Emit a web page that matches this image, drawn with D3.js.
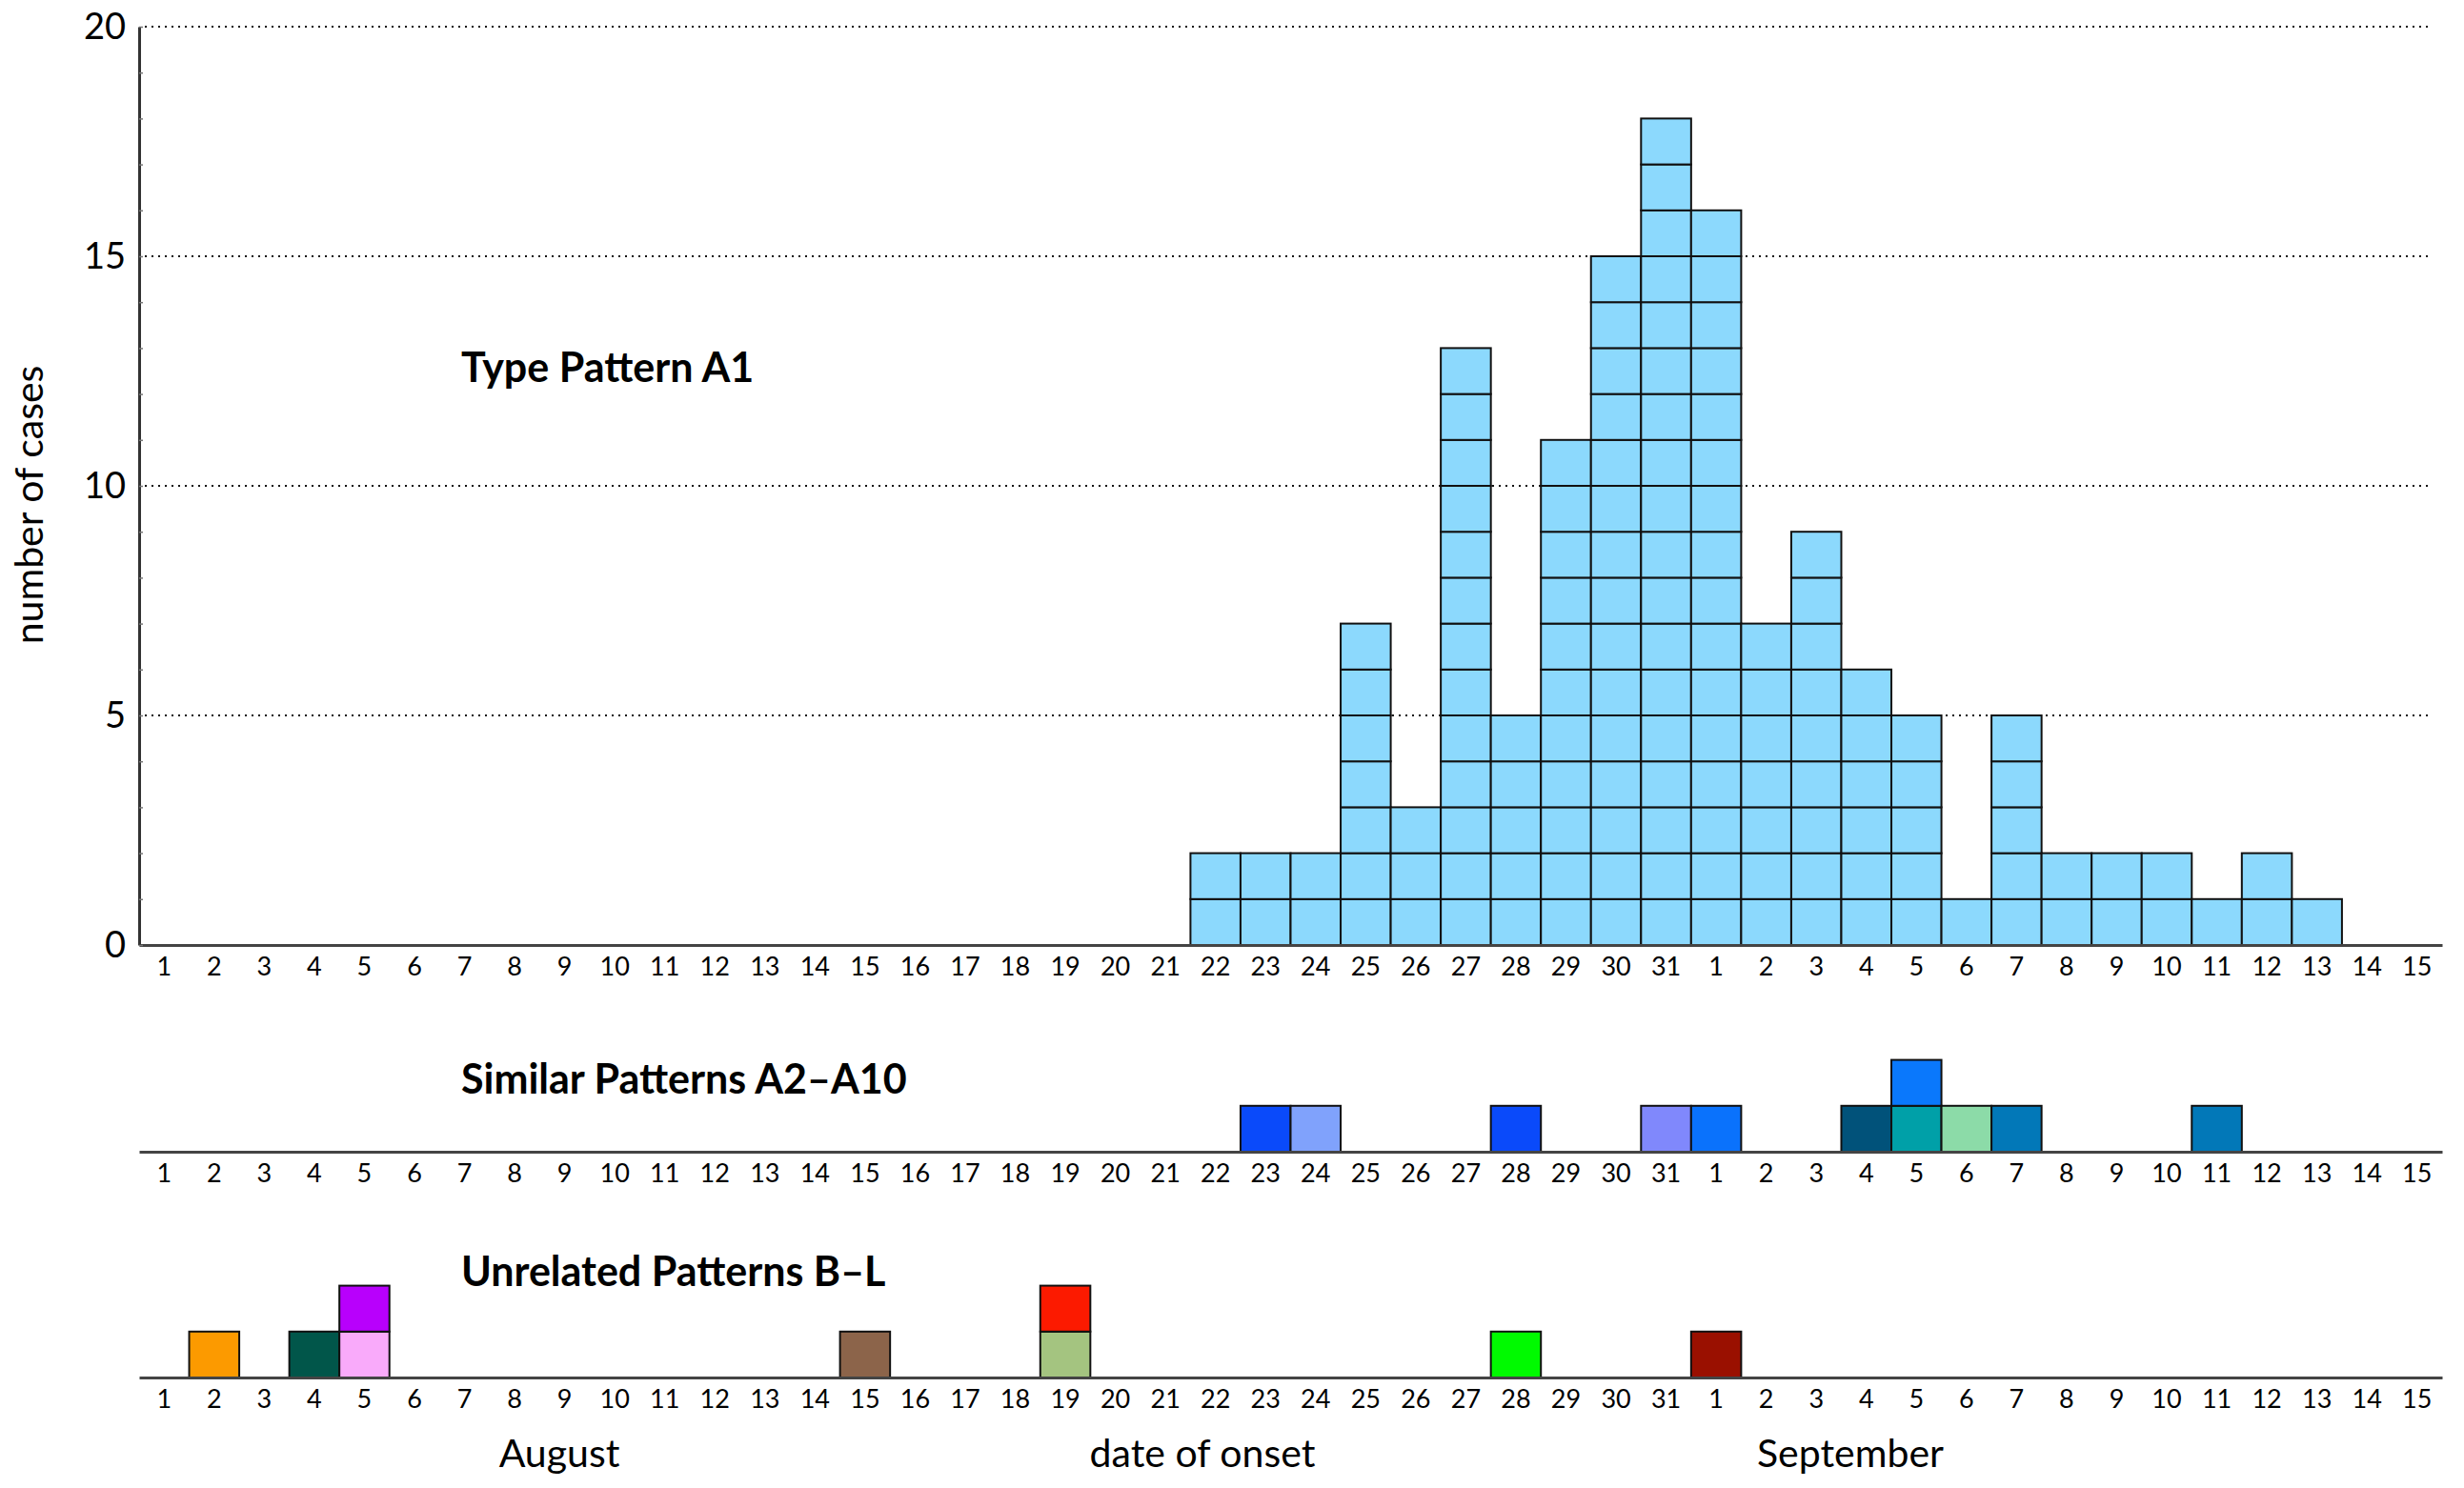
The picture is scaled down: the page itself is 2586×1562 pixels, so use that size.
<!DOCTYPE html>
<html>
<head>
<meta charset="utf-8">
<script src="https://cdnjs.cloudflare.com/ajax/libs/d3/7.8.5/d3.min.js"></script>
<style>
body{margin:0;background:#fff;}
text{font-family:Lato,"Open Sans",sans-serif;fill:#000;}
</style>
</head>
<body>
<div id="viz"><svg></svg></div>
<script>
// one band per day of onset
const days = [
  "Aug 1","Aug 2","Aug 3","Aug 4","Aug 5","Aug 6","Aug 7","Aug 8","Aug 9","Aug 10",
  "Aug 11","Aug 12","Aug 13","Aug 14","Aug 15","Aug 16","Aug 17","Aug 18","Aug 19","Aug 20",
  "Aug 21","Aug 22","Aug 23","Aug 24","Aug 25","Aug 26","Aug 27","Aug 28","Aug 29","Aug 30","Aug 31",
  "Sep 1","Sep 2","Sep 3","Sep 4","Sep 5","Sep 6","Sep 7","Sep 8","Sep 9","Sep 10",
  "Sep 11","Sep 12","Sep 13","Sep 14","Sep 15"
];

// type pattern A1, cases per day (same order as days)
const typeA1 = [
  0,0,0,0,0,0,0,0,0,0,
  0,0,0,0,0,0,0,0,0,0,
  0,2,2,2,7,3,13,5,11,15,18,
  16,7,9,6,5,1,5,2,2,2,
  1,2,1,0,0
];

// similar patterns A2-A10, one entry per case, stacked bottom-up
const similarDays   = ["Aug 23","Aug 24","Aug 28","Aug 31","Sep 1","Sep 4","Sep 5","Sep 5","Sep 6","Sep 7","Sep 11"];
const similarColors = ["#0a4afa","#80a2fc","#0a4afa","#8088fc","#0a72fc","#01527a","#00a0a8","#0a78fc","#8cdba8","#0278b8","#0278b8"];

// unrelated patterns B-L
const unrelatedDays   = ["Aug 2","Aug 4","Aug 5","Aug 5","Aug 15","Aug 19","Aug 19","Aug 28","Sep 1"];
const unrelatedColors = ["#fc9a00","#01564a","#f9aafa","#b800fc","#8c644a","#a4c480","#fc1a00","#00fa00","#9a1000"];

const yTicks = [0,5,10,15,20];
const panelTitles = ["Type Pattern A1","Similar Patterns A2\u2013A10","Unrelated Patterns B\u2013L"];
const bottomLabels = ["August","date of onset","September"];

const SETTINGS = {
  width:2586, height:1562,
  left:146, right:2563,
  gridEnd:2550,
  mainTop:28, mainBase:992,
  simBase:1209, unrelBase:1446,
  titleX:484, titleY:[401,1148,1350],
  bottomX:[587,1262,1942], bottomY:1540,
  a1Fill:'#8cd9fd'
};

let svg = d3.select('#viz').select('svg')
  .attr('width',SETTINGS.width)
  .attr('height',SETTINGS.height);

let x = d3.scaleBand()
  .domain(days)
  .range([SETTINGS.left,SETTINGS.right])
  .padding(0);

let yMain = d3.scaleLinear()
  .domain([0,20])
  .range([SETTINGS.mainBase,SETTINGS.mainTop]);

const unit = SETTINGS.mainBase - yMain(1);

function stackIndex(list){
  let seen = {};
  return list.map(d => { seen[d] = seen[d] || 0; return seen[d]++; });
}

// gridlines
svg.append('g').selectAll('line')
  .data(yTicks.filter(d => d > 0))
  .enter()
  .append('line')
  .attr('x1',SETTINGS.left+6)
  .attr('x2',SETTINGS.gridEnd)
  .attr('y1',d => yMain(d))
  .attr('y2',d => yMain(d))
  .attr('stroke','#111')
  .attr('stroke-width',2)
  .attr('stroke-dasharray','2,5');

// A1 squares
let a1Cells = [];
days.forEach((d,i) => {
  for (let k = 0; k < typeA1[i]; k++) a1Cells.push({day:d, k:k});
});

svg.append('g').selectAll('rect')
  .data(a1Cells)
  .enter()
  .append('rect')
  .attr('x',d => x(d.day))
  .attr('y',d => yMain(d.k+1))
  .attr('width',x.bandwidth())
  .attr('height',unit)
  .attr('fill',SETTINGS.a1Fill)
  .attr('stroke','#111')
  .attr('stroke-width',2);

function drawPanel(base, dayList, colorList){
  let idx = stackIndex(dayList);
  let y = d3.scaleLinear().domain([0,1]).range([base,base-unit]);
  svg.append('g').selectAll('rect')
    .data(dayList)
    .enter()
    .append('rect')
    .attr('x',d => x(d))
    .attr('y',(d,i) => y(idx[i]+1))
    .attr('width',x.bandwidth())
    .attr('height',unit)
    .attr('fill',(d,i) => colorList[i])
    .attr('stroke','#111')
    .attr('stroke-width',2);
}
drawPanel(SETTINGS.simBase, similarDays, similarColors);
drawPanel(SETTINGS.unrelBase, unrelatedDays, unrelatedColors);

// x axes
function drawXAxis(base){
  let g = svg.append('g')
    .attr('transform',`translate(0,${base})`)
    .call(d3.axisBottom(x).tickSize(0).tickSizeOuter(0).tickPadding(13)
      .tickFormat(d => d.split(' ')[1]));
  g.select('.domain').attr('stroke','#444').attr('stroke-width',3);
  g.selectAll('text').attr('font-size',27).attr('font-family','Lato, sans-serif').attr('fill','#000');
}
[SETTINGS.mainBase,SETTINGS.simBase,SETTINGS.unrelBase].forEach(drawXAxis);

// y axis
let yAxis = svg.append('g')
  .attr('transform',`translate(${SETTINGS.left},0)`)
  .call(d3.axisLeft(yMain).tickValues(yTicks).tickSize(0).tickPadding(14));
yAxis.select('.domain').attr('stroke','#333').attr('stroke-width',3);
yAxis.selectAll('text').attr('font-size',38).attr('font-family','Lato, sans-serif').attr('fill','#000');

// small inner ticks on every case
svg.append('g')
  .attr('transform',`translate(${SETTINGS.left},0)`)
  .call(d3.axisRight(yMain).ticks(20).tickSize(4).tickFormat(''))
  .call(g => g.select('.domain').remove())
  .selectAll('line').attr('stroke','#777').attr('stroke-width',1.5);

svg.append('text')
  .attr('transform',`translate(45,530) rotate(-90)`)
  .attr('text-anchor','middle')
  .attr('font-size',41)
  .text('number of cases');

// panel titles
svg.selectAll('.ptitle')
  .data(panelTitles)
  .enter()
  .append('text')
  .attr('class','ptitle')
  .attr('x',SETTINGS.titleX)
  .attr('y',(d,i) => SETTINGS.titleY[i])
  .attr('font-size',43)
  .attr('font-weight','bold')
  .text(d => d);

svg.selectAll('.blabel')
  .data(bottomLabels)
  .enter()
  .append('text')
  .attr('class','blabel')
  .attr('x',(d,i) => SETTINGS.bottomX[i])
  .attr('y',SETTINGS.bottomY)
  .attr('text-anchor','middle')
  .attr('font-size',41)
  .text(d => d);
</script>
</body>
</html>
